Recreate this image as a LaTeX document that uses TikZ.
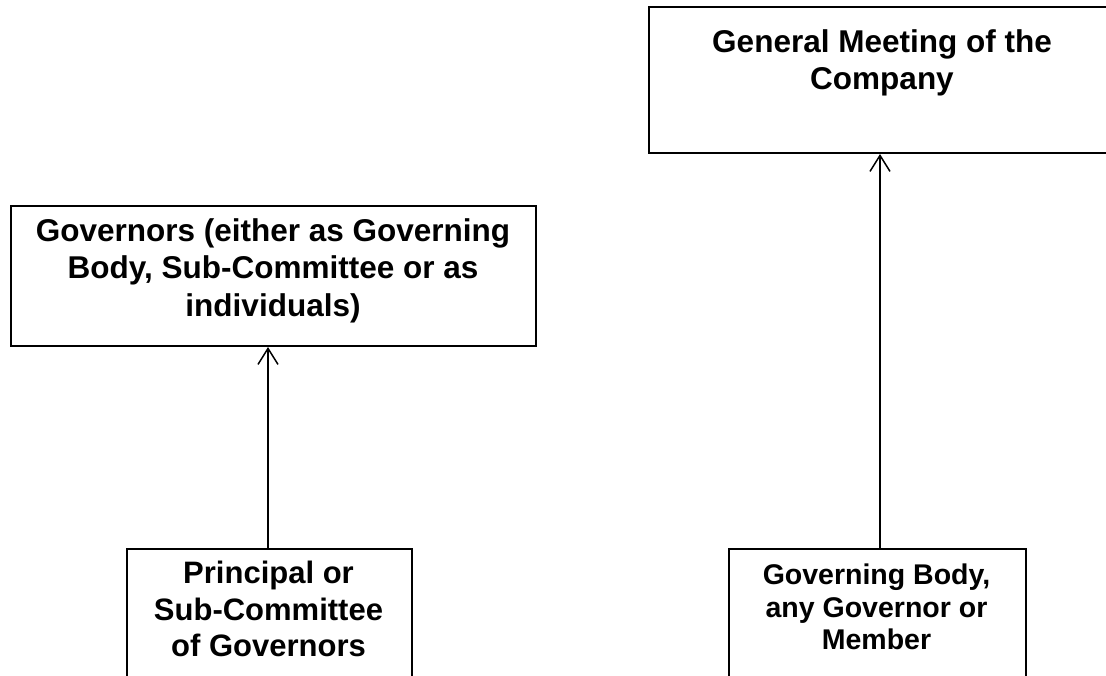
\documentclass[tikz,border=0pt]{standalone}
\usepackage{fontspec}
\setmainfont{Liberation Sans}
\usetikzlibrary{arrows.meta}
\begin{document}
\begin{tikzpicture}[x=1pt,y=-1pt,
  box/.style={draw, line width=2pt, inner sep=0pt, anchor=north west},
  lbl/.style={font=\bfseries\fontsize{31.5}{37.5}\selectfont, align=center, anchor=north, inner sep=0pt},
  lblmid/.style={lbl, font=\bfseries\fontsize{31}{36.5}\selectfont},
  lbltight/.style={lbl, font=\bfseries\fontsize{28.5}{32.5}\selectfont},
  flow/.style={line width=1.5pt, -{Straight Barb[length=16pt,width=20pt,line width=1.5pt]}}]
\useasboundingbox (0,0) rectangle (1106,675);
\clip (0,0) rectangle (1106,675);
% boxes
\node[box, minimum width=469pt, minimum height=146pt] (gm) at (648,6) {};
\node[box, minimum width=525pt, minimum height=140pt] (gov) at (10,205) {};
\node[box, minimum width=285pt, minimum height=170pt] (prin) at (126,548) {};
\node[box, minimum width=297pt, minimum height=170pt] (gb) at (728,548) {};
% labels
\node[lbl] (gmt) at (882,29) {General Meeting of the\\Company};
\node[lbl] (govt) at (273,218) {Governors (either as Governing\\Body, Sub-Committee or as\\individuals)};
\node[lblmid] (print) at (268.5,561) {Principal or\\Sub-Committee\\of Governors};
\node[lbltight] (gbt) at (876.5,564) {Governing Body,\\any Governor or\\Member};
% connectors
\draw[flow] (prin.north -| 268,0) -- (gov.south -| 268,0);
\draw[flow] (gb.north -| 880,0) -- (gm.south -| 880,0);
\end{tikzpicture}
\end{document}
